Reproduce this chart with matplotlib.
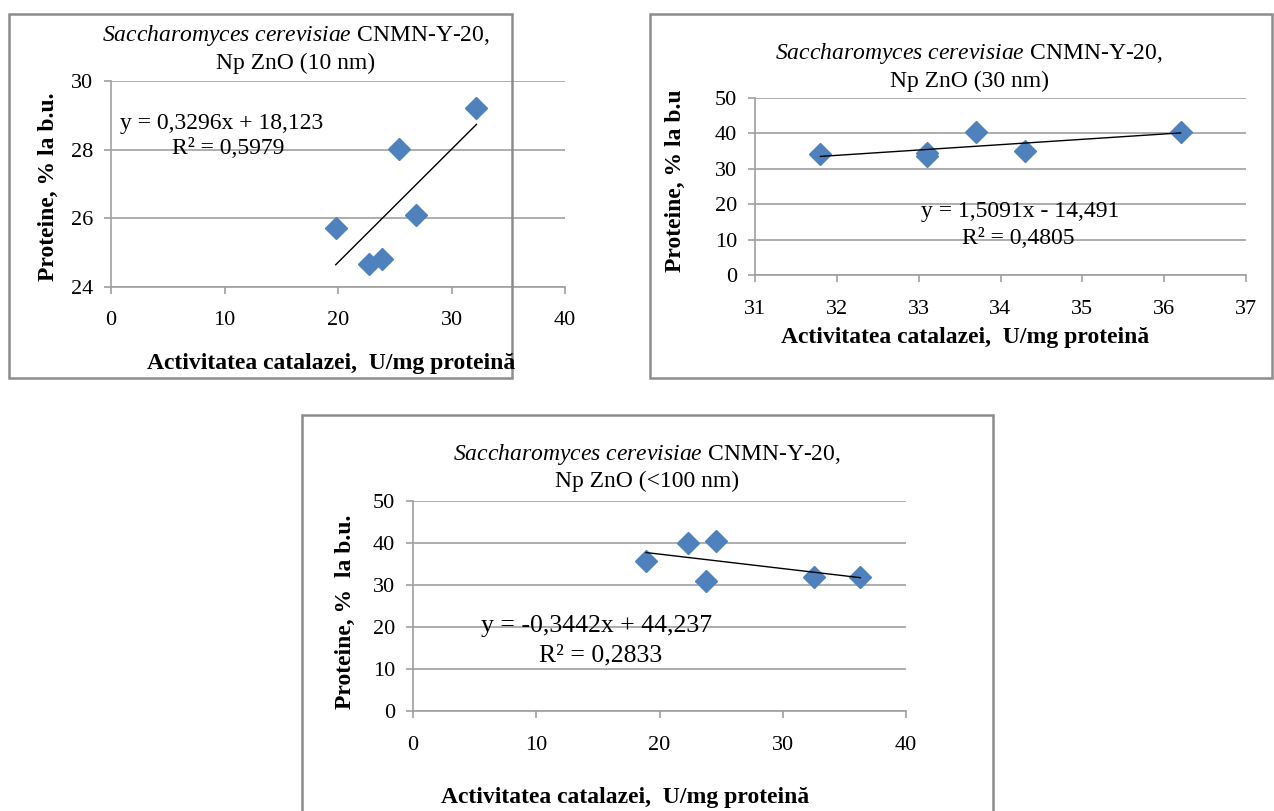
import numpy as np
import matplotlib.pyplot as plt
from matplotlib.patches import Rectangle

plt.rcParams['font.family'] = ['Liberation Serif', 'DejaVu Serif']
plt.rcParams['mathtext.fontset'] = 'custom'
plt.rcParams['mathtext.rm'] = 'Liberation Serif'
plt.rcParams['mathtext.it'] = 'Liberation Serif:italic'

W, H = 1274, 811

# datele
x_10nm = [19.8, 22.7, 23.9, 25.4, 26.9, 32.2]
y_10nm = [25.72, 24.68, 24.81, 28.02, 26.09, 29.22]
panta_10nm, interc_10nm = 0.3296, 18.123

x_30nm = [31.8, 33.1, 33.1, 33.7, 34.3, 36.2]
y_30nm = [34.3, 34.6, 33.6, 40.5, 35.0, 40.4]
panta_30nm, interc_30nm = 1.5091, -14.491

x_100nm = [18.9, 22.3, 24.6, 23.8, 32.5, 36.3]
y_100nm = [35.6, 39.9, 40.5, 30.9, 31.9, 31.9]
panta_100nm, interc_100nm = -0.3442, 44.237

titluri = ['Np ZnO (10 nm)', 'Np ZnO (30 nm)', 'Np ZnO (<100 nm)']
ecuatii = ['y = 0,3296x + 18,123', 'y = 1,5091x - 14,491', 'y = -0,3442x + 44,237']
r2 = ['R² = 0,5979', 'R² = 0,4805', 'R² = 0,2833']
eticheta_x = 'Activitatea catalazei,  U/mg proteină'
eticheta_y = ['Proteine, % la b.u.', 'Proteine, % la b.u', 'Proteine, %  la b.u.']

albastru = '#4F81BD'
gri = '#A0A0A0'


def fx(px):
    return px / W


def fy(py):
    return 1 - py / H


def panou(fig, rect_px, cadru_px, x, y, panta, interc, xlim, ylim, xticks, yticks,
          titlu2, ecuatie, r2_txt, ylabel, pos_titlu, pos_ec, pos_r2, pos_xl, pos_yl,
          pad_x, fs_ec):
    # cadrul gri din jurul graficului
    x0, y0, x1, y1 = cadru_px
    fig.patches.append(Rectangle((fx(x0), fy(y1)), fx(x1 - x0), (y1 - y0) / H,
                                 transform=fig.transFigure, fill=False,
                                 edgecolor='#8C8C8C', linewidth=1.8))
    l, t, r, b = rect_px
    ax = fig.add_axes([fx(l), fy(b), fx(r - l), (b - t) / H])
    ax.set_xlim(*xlim)
    ax.set_ylim(*ylim)
    ax.set_xticks(xticks)
    ax.set_yticks(yticks)
    ax.grid(axis='y', color=gri, linewidth=1.2)
    ax.set_axisbelow(True)
    for s in ['top', 'right']:
        ax.spines[s].set_visible(False)
    for s in ['left', 'bottom']:
        ax.spines[s].set_color(gri)
        ax.spines[s].set_linewidth(1.2)
    ax.tick_params(axis='x', direction='out', length=5, color=gri, width=1.2,
                   labelsize=16, pad=pad_x)
    ax.tick_params(axis='y', direction='out', length=5, color=gri, width=1.2,
                   labelsize=16, pad=8)

    ax.plot(x, y, linestyle='none', marker='D', markersize=11.5,
            color=albastru, markeredgecolor=albastru, zorder=3, clip_on=False)
    xs = np.array([min(x), max(x)])
    ax.plot(xs, panta * xs + interc, color='black', linewidth=1, zorder=4)

    fig.text(fx(pos_titlu[0]), fy(pos_titlu[1]),
             r'$\mathit{Saccharomyces\ cerevisiae}$ CNMN-Y-20,',
             ha='center', va='center', fontsize=17)
    fig.text(fx(pos_titlu[0]), fy(pos_titlu[1] + 27), titlu2,
             ha='center', va='center', fontsize=17)
    fig.text(fx(pos_ec[0]), fy(pos_ec[1]), ecuatie, ha='center', va='center', fontsize=fs_ec)
    fig.text(fx(pos_r2[0]), fy(pos_r2[1]), r2_txt, ha='center', va='center', fontsize=fs_ec)
    fig.text(fx(pos_xl[0]), fy(pos_xl[1]), eticheta_x, ha='center', va='center',
             fontsize=17, fontweight='bold')
    fig.text(fx(pos_yl[0]), fy(pos_yl[1]), ylabel, ha='center', va='center',
             fontsize=17, fontweight='bold', rotation=90)
    return ax


fig = plt.figure(figsize=(W / 100, H / 100), dpi=100)

panou(fig, (111, 81, 565, 287), (9, 14, 512, 378), x_10nm, y_10nm, panta_10nm, interc_10nm,
      (0, 40), (24, 30), [0, 10, 20, 30, 40], [24, 26, 28, 30],
      titluri[0], ecuatii[0], r2[0], eticheta_y[0],
      (296, 36), (222, 123), (228, 149), (331, 364), (48, 187), 12, 17)

panou(fig, (755, 98, 1246, 275), (650, 14, 1272, 378), x_30nm, y_30nm, panta_30nm, interc_30nm,
      (31, 37), (0, 50), [31, 32, 33, 34, 35, 36, 37], [0, 10, 20, 30, 40, 50],
      titluri[1], ecuatii[1], r2[1], eticheta_y[1],
      (969, 54), (1020, 211), (1018, 238), (965, 337), (675, 181), 13, 17)

panou(fig, (413, 501, 906, 711), (302, 415, 993, 820), x_100nm, y_100nm, panta_100nm, interc_100nm,
      (0, 40), (0, 50), [0, 10, 20, 30, 40], [0, 10, 20, 30, 40, 50],
      titluri[2], ecuatii[2], r2[2], eticheta_y[2],
      (647, 454), (597, 626), (601, 655), (625, 797), (345, 612), 13, 18.5)

plt.savefig('out.png', dpi=100)
